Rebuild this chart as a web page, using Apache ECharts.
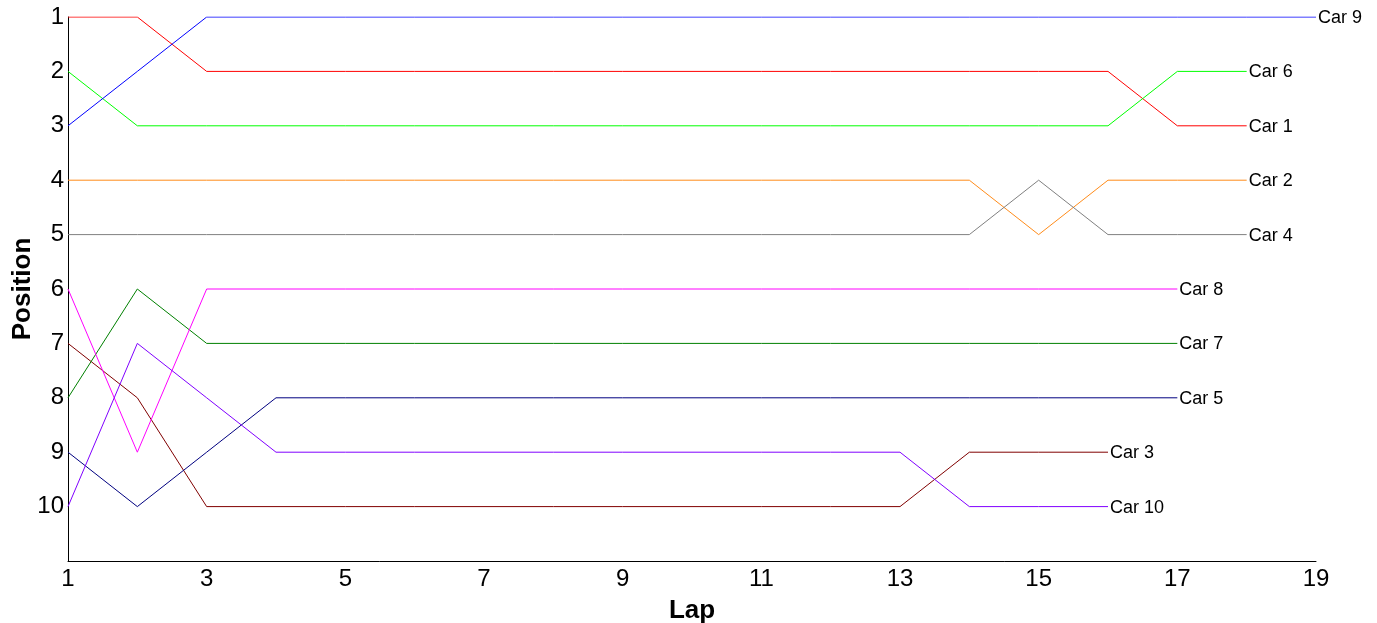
<!DOCTYPE html>
<html>
<head>
<meta charset="utf-8">
<script src="https://cdn.jsdelivr.net/npm/echarts@6/dist/echarts.min.js"></script>
<style>html,body{margin:0;padding:0;background:#fff}#c{width:1377px;height:623px}</style>
</head>
<body>
<div id="c"></div>
<script>
const carNames = ['Car 1','Car 2','Car 3','Car 4','Car 5','Car 6','Car 7','Car 8','Car 9','Car 10'];
const carColors = ['#ff0000','#ff8c1a','#800000','#808080','#000080','#00ff00','#008000','#ff00ff','#0000ff','#8000ff'];
// positions by lap, starting at lap 1
const car1  = [1,1,2,2,2,2,2,2,2,2,2,2,2,2,2,2,3,3];
const car2  = [4,4,4,4,4,4,4,4,4,4,4,4,4,4,5,4,4,4];
const car3  = [7,8,10,10,10,10,10,10,10,10,10,10,10,9,9,9];
const car4  = [5,5,5,5,5,5,5,5,5,5,5,5,5,5,4,5,5,5];
const car5  = [9,10,9,8,8,8,8,8,8,8,8,8,8,8,8,8,8];
const car6  = [2,3,3,3,3,3,3,3,3,3,3,3,3,3,3,3,2,2];
const car7  = [8,6,7,7,7,7,7,7,7,7,7,7,7,7,7,7,7];
const car8  = [6,9,6,6,6,6,6,6,6,6,6,6,6,6,6,6,6];
const car9  = [3,2,1,1,1,1,1,1,1,1,1,1,1,1,1,1,1,1,1];
const car10 = [10,7,8,9,9,9,9,9,9,9,9,9,9,10,10,10];
const carPositions = [car1,car2,car3,car4,car5,car6,car7,car8,car9,car10];
const yTickLabels = ['1','2','3','4','5','6','7','8','9','10'];

const chart = echarts.init(document.getElementById('c'));
const font = 'Liberation Sans, Arial, sans-serif';
const series = carNames.map((name, i) => ({
  name: name,
  type: 'line',
  data: carPositions[i].map((p, k) => [k + 1, p]),
  showSymbol: false,
  symbol: 'none',
  lineStyle: { width: 1, color: carColors[i] },
  itemStyle: { color: carColors[i] },
  emphasis: { disabled: true },
  animation: false,
  endLabel: {
    show: true,
    formatter: name,
    color: '#000',
    fontSize: 18,
    fontFamily: font,
    distance: 2,
    offset: [0, 1]
  }
}));

chart.setOption({
  backgroundColor: '#fff',
  animation: false,
  grid: { left: 68, right: 61, top: 17, bottom: 62, containLabel: false, outerBoundsMode: 'none' },
  xAxis: {
    type: 'value', min: 1, max: 19, interval: 2,
    name: 'Lap', nameLocation: 'middle', nameGap: 37, nameMoveOverlap: false,
    nameTextStyle: { fontSize: 26, fontWeight: 'bold', color: '#000', fontFamily: font },
    axisLine: { show: true, lineStyle: { color: '#000', width: 1 } },
    axisTick: { show: false },
    splitLine: { show: false },
    axisLabel: { fontSize: 24, color: '#000', fontFamily: font, margin: 6 }
  },
  yAxis: {
    type: 'value', inverse: true, min: 1, max: 11, interval: 1,
    name: 'Position', nameLocation: 'middle', nameGap: 32, nameMoveOverlap: false,
    nameTextStyle: { fontSize: 26, fontWeight: 'bold', color: '#000', fontFamily: font },
    axisLine: { show: true, lineStyle: { color: '#000', width: 1 } },
    axisTick: { show: false },
    splitLine: { show: false },
    axisLabel: {
      fontSize: 24, color: '#000', fontFamily: font, margin: 4,
      formatter: v => (v >= 1 && v <= 10 ? yTickLabels[v - 1] : '')
    }
  },
  series: series
});
</script>
</body>
</html>
